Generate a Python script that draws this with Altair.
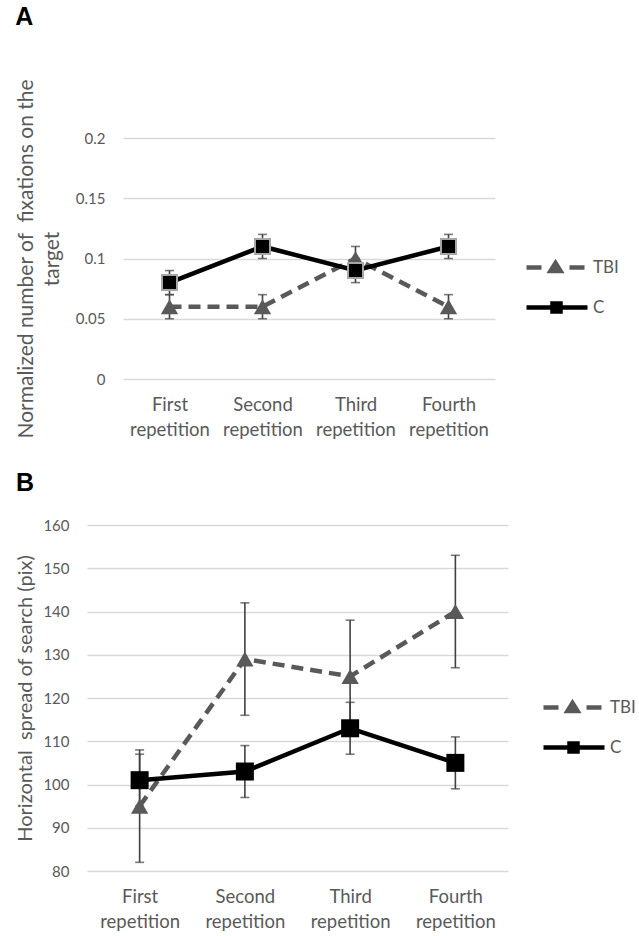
import altair as alt
import pandas as pd

reps = ["First repetition", "Second repetition", "Third repetition", "Fourth repetition"]
groups = ["TBI", "C"]

# Panel A: normalized number of fixations on the target
a_tbi = [0.06, 0.06, 0.10, 0.06]
a_tbi_err = [0.01, 0.01, 0.01, 0.01]
a_c = [0.08, 0.11, 0.09, 0.11]
a_c_err = [0.01, 0.01, 0.01, 0.01]

# Panel B: horizontal spread of search (pix)
b_tbi = [95, 129, 125, 140]
b_tbi_err = [13, 13, 13, 13]
b_c = [101, 103, 113, 105]
b_c_err = [6, 6, 6, 6]

a_ticks = [0, 0.05, 0.1, 0.15, 0.2]
b_ticks = [80, 90, 100, 110, 120, 130, 140, 150, 160]

GRAY = "#595959"
FONT = "Lato"

# legend symbols: dash - marker - dash, and line with square
PATH_TBI = "M-1,0H0.5M3.3,0H4.8M1.9,-0.45L2.4,0.35L1.4,0.35Z"
PATH_C = "M-1,0H5.1M1.6,-0.4H2.4V0.4H1.6Z"


def frame(tbi, tbi_err, c, c_err):
    rows = []
    for i, r in enumerate(reps):
        rows.append(dict(rep=r, group="TBI", mean=tbi[i], lo=tbi[i] - tbi_err[i], hi=tbi[i] + tbi_err[i]))
    for i, r in enumerate(reps):
        rows.append(dict(rep=r, group="C", mean=c[i], lo=c[i] - c_err[i], hi=c[i] + c_err[i]))
    return pd.DataFrame(rows)


def spacer():
    return alt.Chart(pd.DataFrame({"v": [0]})).mark_point(size=0, opacity=0).encode(
        x=alt.X("v:Q", axis=None), y=alt.Y("v:Q", axis=None)
    ).properties(width=1, height=1)


def panel(df, letter, title_offset, ytitle, ytitle_size, ydomain, yticks, yfmt, w, h,
          title_pad, legend_x, legend_y, sq_size, sq_stroke, sq_stroke_w, tri_size):
    x = alt.X("rep:N", sort=reps,
              scale=alt.Scale(type="point", padding=0.5, domain=reps),
              axis=alt.Axis(title=None, labelExpr="split(datum.label, ' ')",
                            labelAngle=0, labelOverlap=False, domain=False, ticks=False,
                            labelFont=FONT, labelFontSize=18.5, labelColor=GRAY,
                            labelLineHeight=25, labelPadding=16, grid=False))
    yax = alt.Axis(title=ytitle, values=yticks, format=yfmt, domain=False, ticks=False,
                   labelFont=FONT, labelFontSize=15, labelColor=GRAY, labelPadding=18,
                   grid=True, gridColor="#d9d9d9", gridWidth=1.5,
                   titleFont=FONT, titleFontSize=ytitle_size, titleColor=GRAY, titleFontWeight="normal",
                   titleLineHeight=26, titlePadding=title_pad)
    y = alt.Y("mean:Q", scale=alt.Scale(domain=ydomain, nice=False, zero=False), axis=yax)

    base = alt.Chart(df)

    err = base.mark_rule(color="#404040", strokeWidth=1.6).encode(
        x=x, y=alt.Y("lo:Q"), y2="hi:Q")
    cap_lo = base.mark_tick(color="#404040", size=9, thickness=1.6).encode(x=x, y=alt.Y("lo:Q"))
    cap_hi = base.mark_tick(color="#404040", size=9, thickness=1.6).encode(x=x, y=alt.Y("hi:Q"))

    tbi = base.transform_filter(alt.datum.group == "TBI")
    cc = base.transform_filter(alt.datum.group == "C")

    line_tbi = tbi.mark_line(color=GRAY, strokeWidth=4.5, strokeDash=[12, 7]).encode(x=x, y=y)
    pts_tbi = tbi.mark_point(shape="triangle-up", filled=True, color=GRAY, size=tri_size,
                             opacity=1).encode(x=x, y=y)
    line_c = cc.mark_line(color="black", strokeWidth=4.5).encode(x=x, y=y)
    pts_c = cc.mark_point(shape="square", filled=True, fill="black", stroke=sq_stroke,
                          strokeWidth=sq_stroke_w, size=sq_size, opacity=1).encode(x=x, y=y)

    leg = alt.Legend(title=None, orient="none", legendX=legend_x, legendY=legend_y,
                     symbolSize=400, symbolStrokeWidth=4.5, symbolOpacity=1,
                     labelFont=FONT, labelFontSize=17, labelColor=GRAY, labelOffset=44,
                     rowPadding=14, padding=0)
    legend_layer = base.mark_point(opacity=0, strokeWidth=4.5, size=400).encode(
        x=x, y=y,
        shape=alt.Shape("group:N", scale=alt.Scale(domain=groups, range=[PATH_TBI, PATH_C]), legend=leg),
        fill=alt.Fill("group:N", scale=alt.Scale(domain=groups, range=[GRAY, "black"]), legend=leg),
        stroke=alt.Stroke("group:N", scale=alt.Scale(domain=groups, range=[GRAY, "black"]), legend=leg),
    )

    layered = alt.layer(err, cap_lo, cap_hi, line_tbi, pts_tbi, line_c, pts_c, legend_layer).properties(
        width=w, height=h,
        title=alt.TitleParams(letter, anchor="start", frame="bounds", font="Liberation Sans",
                              fontSize=25, fontWeight="bold", color="black", offset=title_offset),
    ).resolve_scale(shape="independent", fill="independent", stroke="independent")
    return alt.hconcat(spacer(), layered, spacing=0)


dfa = frame(a_tbi, a_tbi_err, a_c, a_c_err)
dfb = frame(b_tbi, b_tbi_err, b_c, b_c_err)

pa = panel(dfa, "A", 49, ["Normalized number of\u00a0 fixations on the", "target"], 21, [0, 0.2],
           a_ticks, "~g", 372, 241, 13, 401, 117, 225, "#a6a6a6", 2, 300)
pb = panel(dfb, "B", 22, "Horizontal\u00a0 spread of search (pix)", 20, [80, 160],
           b_ticks, "d", 421, 346, 7, 454, 170, 324, "black", 0, 300)

chart = alt.vconcat(pa, pb, spacing=32).resolve_scale(
    shape="independent", fill="independent", stroke="independent"
).properties(
    padding={"left": 14, "top": 4, "right": 0, "bottom": 0}, background="white"
).configure_view(stroke=None)

chart.save("out.html", embed_options={"renderer": "svg", "actions": False})
